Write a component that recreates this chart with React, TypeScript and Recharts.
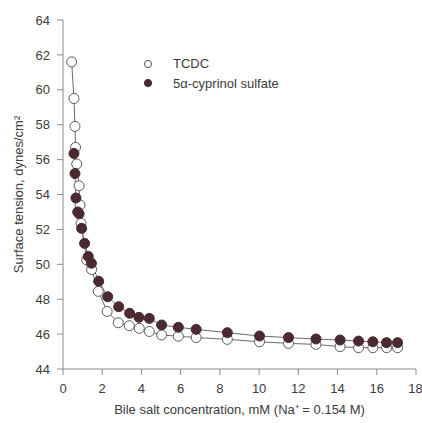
import React from 'react';
import { ComposedChart, Line, XAxis, YAxis, Legend } from 'recharts';

const tcdcX = [0.44, 0.56, 0.61, 0.64, 0.7, 0.82, 0.87, 0.92, 1.21, 1.46, 1.8, 2.25, 2.82, 3.38, 3.89, 4.4, 5.03, 5.88, 6.79, 8.38, 10.02, 11.5, 12.9, 14.13, 15.07, 15.8, 16.5, 17.06];
const tcdcY = [61.6, 59.5, 57.9, 56.7, 55.75, 54.5, 53.4, 52.35, 50.25, 49.7, 48.45, 47.3, 46.65, 46.48, 46.33, 46.15, 45.95, 45.88, 45.8, 45.7, 45.56, 45.47, 45.41, 45.28, 45.22, 45.22, 45.22, 45.22];
const cypX = [0.56, 0.61, 0.66, 0.75, 0.82, 0.95, 1.1, 1.29, 1.45, 1.82, 2.28, 2.84, 3.4, 3.87, 4.4, 5.03, 5.88, 6.79, 8.38, 10.02, 11.5, 12.9, 14.13, 15.07, 15.8, 16.5, 17.06];
const cypY = [56.35, 55.2, 53.8, 53.0, 52.9, 52.06, 51.2, 50.45, 50.06, 49.03, 48.14, 47.57, 47.19, 46.96, 46.9, 46.52, 46.39, 46.27, 46.08, 45.89, 45.8, 45.72, 45.66, 45.6, 45.56, 45.51, 45.51];

const xTicks = [0, 2, 4, 6, 8, 10, 12, 14, 16, 18];
const yTicks = [44, 46, 48, 50, 52, 54, 56, 58, 60, 62, 64];
const seriesNames = ['TCDC', '5α-cyprinol sulfate'];

const tcdcData = tcdcX.map((x, i) => ({ x, y: tcdcY[i] }));
const cypData = cypX.map((x, i) => ({ x, y: cypY[i] }));

const FONT = '"Liberation Sans", Arial, sans-serif';
const TEXT = '#3c3c3c';
const FILL = '#4a2930';

const LegendBox = () => (
  <div style={{ fontFamily: FONT, fontSize: 13, color: TEXT }}>
    {seriesNames.map((n, i) => (
      <div key={n} style={{ display: 'flex', alignItems: 'center', height: 19.4 }}>
        <svg width={12} height={12} style={{ marginRight: 19 }}>
          <circle cx={6} cy={6} r={3.6} fill={i === 0 ? '#fff' : FILL} stroke={i === 0 ? '#555' : FILL} strokeWidth={1} />
        </svg>
        <span>{n}</span>
      </div>
    ))}
  </div>
);

export default function App() {
  return (
    <div style={{ position: 'absolute', left: 0, top: 0, background: '#fff' }}>
      <ComposedChart width={422} height={423} margin={{ top: 20, right: 6, bottom: 0, left: 0 }}>
        <XAxis
          type="number"
          dataKey="x"
          domain={[0, 18]}
          ticks={xTicks}
          height={54}
          allowDataOverflow
          stroke="#8a8a8a"
          tickSize={6}
          tickMargin={9}
          tick={{ fill: TEXT, fontSize: 13, fontFamily: FONT }}
          label={{ value: 'Bile salt concentration, mM (Na⁺ = 0.154 M)', position: 'insideBottom', offset: 9, fill: TEXT, fontSize: 13, fontFamily: FONT }}
        />
        <YAxis
          type="number"
          dataKey="y"
          domain={[44, 64]}
          ticks={yTicks}
          width={63}
          allowDataOverflow
          stroke="#8a8a8a"
          tickSize={6}
          tickMargin={7}
          tick={{ fill: TEXT, fontSize: 13, fontFamily: FONT }}
          label={({ viewBox }: any) => (
            <text
              x={18}
              y={viewBox.y + viewBox.height / 2}
              transform={`rotate(-90, 18, ${viewBox.y + viewBox.height / 2})`}
              textAnchor="middle"
              dominantBaseline="central"
              fill={TEXT}
              fontSize={13}
              fontFamily={FONT}
            >
              Surface tension, dynes/cm²
            </text>
          )}
        />
        <Legend
          layout="vertical"
          align="center"
          verticalAlign="middle"
          content={<LegendBox />}
          wrapperStyle={{ position: 'absolute', left: 142, top: 54, width: 200 }}
        />
        <Line
          data={tcdcData}
          dataKey="y"
          name={seriesNames[0]}
          type="linear"
          stroke="#6a6a6a"
          strokeWidth={1}
          isAnimationActive={false}
          dot={{ r: 5, fill: '#fff', stroke: '#5a5a5a', strokeWidth: 1 }}
          activeDot={false}
        />
        <Line
          data={cypData}
          dataKey="y"
          name={seriesNames[1]}
          type="linear"
          stroke="#6a6a6a"
          strokeWidth={1}
          isAnimationActive={false}
          dot={{ r: 5, fill: FILL, stroke: FILL, strokeWidth: 1 }}
          activeDot={false}
        />
      </ComposedChart>
    </div>
  );
}
